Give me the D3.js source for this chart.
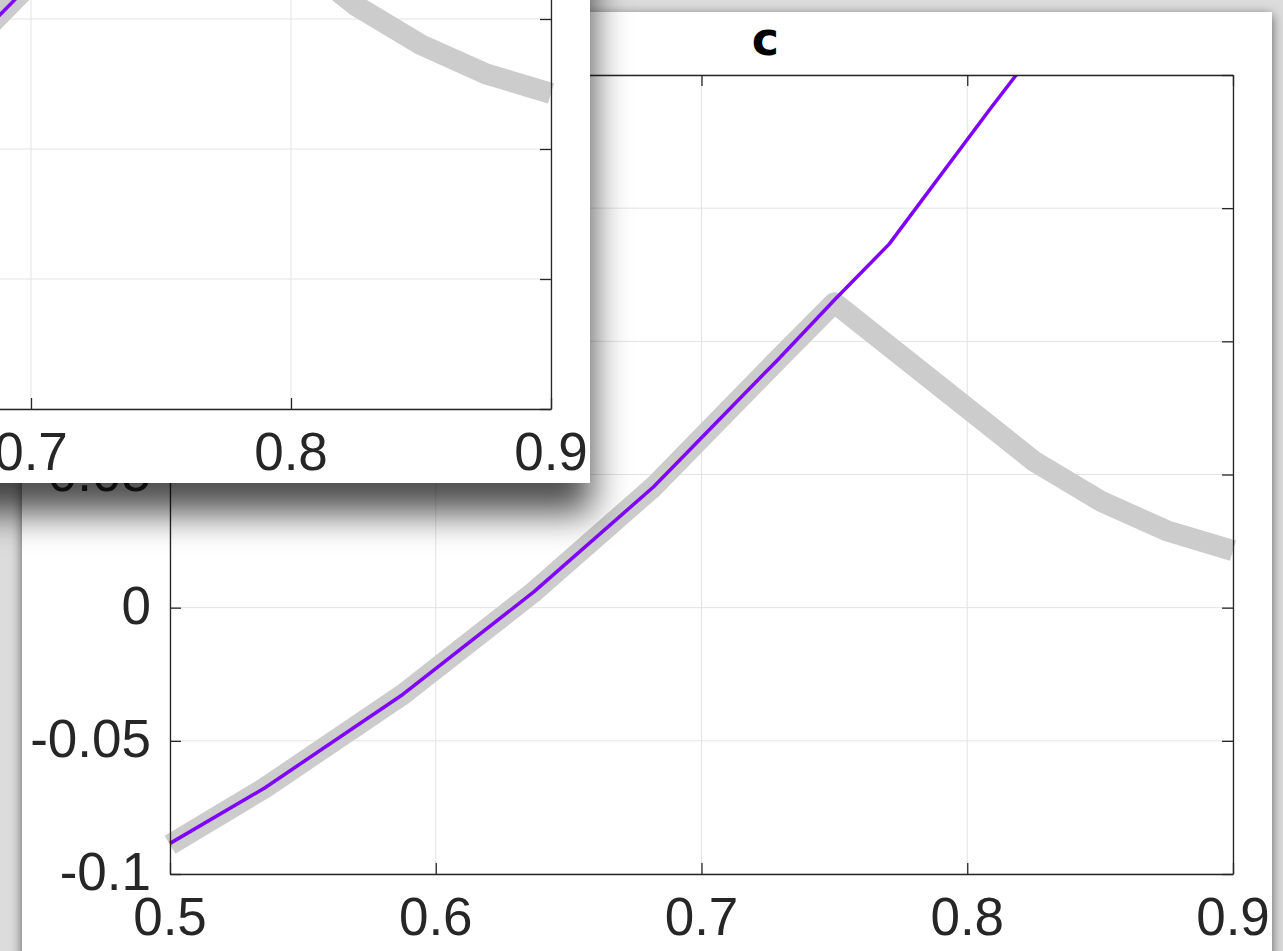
<!DOCTYPE html>
<html>
<head>
<meta charset="utf-8">
<script src="https://cdn.jsdelivr.net/npm/d3@7"></script>
<style>
  html, body { margin: 0; padding: 0; background: #dcdcdc; overflow: hidden; }
</style>
</head>
<body>
<div id="chart"></div>
<script>
// values
const purpleX = [0.5, 0.5356, 0.5876, 0.637, 0.682, 0.729, 0.75, 0.7706, 0.8088, 0.83];
const purpleY = [-0.0885, -0.0677, -0.0326, 0.006, 0.0454, 0.0934, 0.1155, 0.1365, 0.1875, 0.215];
const grayX = [0.5, 0.5356, 0.5876, 0.637, 0.682, 0.729, 0.75, 0.825, 0.85, 0.875, 0.9];
const grayY = [-0.089, -0.0677, -0.0326, 0.006, 0.0454, 0.0934, 0.1145, 0.0551, 0.0401, 0.0289, 0.0214];
const xTicks = [0.5, 0.6, 0.7, 0.8, 0.9];
const xTickLabels = ["0.5", "0.6", "0.7", "0.8", "0.9"];
const yTicks = [-0.1, -0.05, 0, 0.05, 0.1, 0.15, 0.2];
const yTickLabels = ["-0.1", "-0.05", "0", "0.05", "0.1", "0.15", "0.2"];
const titleText = "c";

const width = 1283;
const height = 951;

const svg = d3.select("#chart")
  .append("svg")
  .attr("width", width)
  .attr("height", height);

const defs = svg.append("defs");

// window shadows
defs.append("filter")
  .attr("id", "mainShadow")
  .attr("filterUnits", "userSpaceOnUse")
  .attr("x", -100).attr("y", -100).attr("width", 1500).attr("height", 1200)
  .append("feDropShadow")
  .attr("dx", 0).attr("dy", 3)
  .attr("stdDeviation", 6)
  .attr("flood-color", "#000")
  .attr("flood-opacity", 0.6);

defs.append("filter")
  .attr("id", "insetShadow")
  .attr("filterUnits", "userSpaceOnUse")
  .attr("x", -400).attr("y", -400).attr("width", 1200).attr("height", 1100)
  .append("feDropShadow")
  .attr("dx", 2).attr("dy", 30)
  .attr("stdDeviation", 18)
  .attr("flood-color", "#000")
  .attr("flood-opacity", 0.7);

defs.append("clipPath").attr("id", "insetClip")
  .append("rect")
  .attr("x", -300).attr("y", -300).attr("width", 890).attr("height", 783);

// draw one copy of the figure into a group
function drawFigure(g, x, y, clipId) {
  const [x0, x1] = x.range();
  const [y0, y1] = y.range();   // y0 bottom, y1 top

  // clip lines only at the top of the axes
  defs.append("clipPath").attr("id", clipId)
    .append("rect")
    .attr("x", x0 - 100).attr("y", y1)
    .attr("width", x1 - x0 + 200).attr("height", y0 - y1 + 100);

  // grid
  g.selectAll(".vgrid")
    .data(xTicks)
    .enter().append("line")
    .attr("x1", d => x(d)).attr("x2", d => x(d))
    .attr("y1", y0).attr("y2", y1)
    .style("stroke", "#e3e3e3")
    .style("stroke-width", 1);
  g.selectAll(".hgrid")
    .data(yTicks)
    .enter().append("line")
    .attr("x1", x0).attr("x2", x1)
    .attr("y1", d => y(d)).attr("y2", d => y(d))
    .style("stroke", "#e3e3e3")
    .style("stroke-width", 1);

  const line = d3.line()
    .x(d => x(d[0]))
    .y(d => y(d[1]));

  const lines = g.append("g").attr("clip-path", "url(#" + clipId + ")");

  lines.append("path")
    .datum(d3.zip(grayX, grayY))
    .attr("d", line)
    .style("fill", "none")
    .style("stroke", "#cccccc")
    .style("stroke-width", 21)
    .style("stroke-linejoin", "round")
    .style("stroke-linecap", "butt");

  lines.append("path")
    .datum(d3.zip(purpleX, purpleY))
    .attr("d", line)
    .style("fill", "none")
    .style("stroke", "#7f00ff")
    .style("stroke-width", 3.5)
    .style("stroke-linejoin", "round");

  // box with inward ticks on all four sides
  const axisColor = "#262626";
  const tickLen = 11;

  g.append("g")
    .attr("transform", "translate(0," + y0 + ")")
    .call(d3.axisBottom(x).tickValues(xTicks).tickSizeInner(-tickLen).tickSizeOuter(0).tickFormat(""));
  g.append("g")
    .attr("transform", "translate(0," + y1 + ")")
    .call(d3.axisTop(x).tickValues(xTicks).tickSizeInner(-tickLen).tickSizeOuter(0).tickFormat(""));
  g.append("g")
    .attr("transform", "translate(" + x0 + ",0)")
    .call(d3.axisLeft(y).tickValues(yTicks).tickSizeInner(-tickLen).tickSizeOuter(0).tickFormat(""));
  g.append("g")
    .attr("transform", "translate(" + x1 + ",0)")
    .call(d3.axisRight(y).tickValues(yTicks).tickSizeInner(-tickLen).tickSizeOuter(0).tickFormat(""));

  g.selectAll(".domain, .tick line")
    .style("stroke", axisColor)
    .style("stroke-width", 1.3);

  // tick labels
  g.selectAll(".xlab")
    .data(xTicks)
    .enter().append("text")
    .attr("x", d => x(d))
    .attr("y", y0 + 61)
    .attr("text-anchor", "middle")
    .style("font-family", "'Liberation Sans', Arial, sans-serif")
    .style("font-size", "53px")
    .style("fill", axisColor)
    .text((d, i) => xTickLabels[i]);

  g.selectAll(".ylab")
    .data(yTicks)
    .enter().append("text")
    .attr("x", x0 - 19)
    .attr("y", d => y(d) + 16)
    .attr("text-anchor", "end")
    .style("font-family", "'Liberation Sans', Arial, sans-serif")
    .style("font-size", "53px")
    .style("fill", axisColor)
    .text((d, i) => yTickLabels[i]);

  // title
  g.append("text")
    .attr("x", x0 + (x1 - x0) * 0.56)
    .attr("y", y1 - 20)
    .attr("text-anchor", "middle")
    .style("font-family", "'DejaVu Sans', sans-serif")
    .style("font-weight", "bold")
    .style("font-size", "46px")
    .style("fill", "#000")
    .text(titleText);
}

// main window
svg.append("rect")
  .attr("x", 22).attr("y", 12)
  .attr("width", 1250).attr("height", 1000)
  .style("fill", "#ffffff")
  .attr("filter", "url(#mainShadow)");

const mainX = d3.scaleLinear().domain([0.5, 0.9]).range([170, 1233]);
const mainY = d3.scaleLinear().domain([-0.1, 0.2]).range([874, 75]);
drawFigure(svg.append("g"), mainX, mainY, "mainClip");

// second window lying on top, upper left
svg.append("rect")
  .attr("x", -300).attr("y", -300)
  .attr("width", 890).attr("height", 783)
  .style("fill", "#ffffff")
  .attr("filter", "url(#insetShadow)");

const insetX = d3.scaleLinear().domain([0.5, 0.9]).range([-489, 551]);
const insetY = d3.scaleLinear().domain([-0.1, 0.2]).range([409, -371]);
const insetG = svg.append("g").attr("clip-path", "url(#insetClip)");
drawFigure(insetG, insetX, insetY, "insetLineClip");
</script>
</body>
</html>
